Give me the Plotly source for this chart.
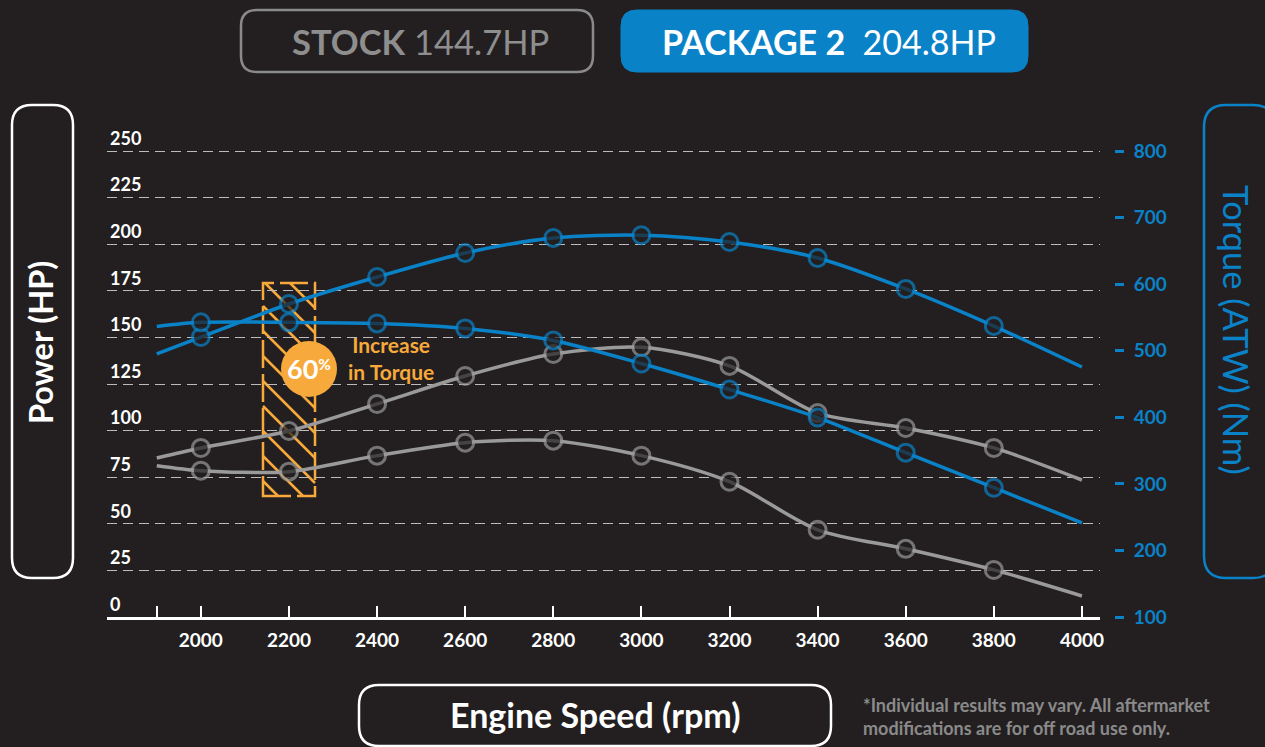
import plotly.graph_objects as go

# ---------------- data ----------------
rpm = [1900, 2000, 2200, 2400, 2600, 2800, 3000, 3200, 3400, 3600, 3800, 4000]
pkg_power_hp = [141.1, 150.2, 167.9, 182.4, 195.3, 203.3, 204.8, 201.2, 192.6, 176.0, 156.1, 134.1]
pkg_torque_nm = [536.5, 542.6, 542.6, 541.0, 533.5, 515.4, 480.8, 441.7, 399.6, 346.9, 294.2, 241.5]
stock_power_hp = [85.3, 90.7, 99.8, 114.3, 129.3, 141.1, 144.7, 134.7, 109.4, 101.4, 90.7, 73.5]
stock_torque_nm = [327.3, 319.8, 318.3, 342.4, 361.9, 364.9, 342.4, 303.2, 231.0, 202.4, 170.7, 131.6]
marker_rpm = [2000, 2200, 2400, 2600, 2800, 3000, 3200, 3400, 3600, 3800]

x_tickvals = [2000, 2200, 2400, 2600, 2800, 3000, 3200, 3400, 3600, 3800, 4000]
x_ticktext = ["2000", "2200", "2400", "2600", "2800", "3000", "3200", "3400", "3600", "3800", "4000"]
x_extra_tick = [1900]
hp_ticks = [0, 25, 50, 75, 100, 125, 150, 175, 200, 225, 250]
nm_ticks = [100, 200, 300, 400, 500, 600, 700, 800]

# ---------------- style ----------------
W, H = 1265, 747
BG = "#231f20"
BLUE = "#0a82c8"
GRAY = "#9a9a9a"
ORANGE = "#f7a93b"
FONT = "Lato"

X_RANGE = [1787, 4041]
HP_TOP = 275
HP_RANGE = [0, HP_TOP]
NM_RANGE = [100, 100 + HP_TOP * 2.8]
PX_L, PX_R, PX_B = 107, 1100, 617
PX_PER_HP = 466 / 250
PX_T = PX_B - HP_TOP * PX_PER_HP


def fx(px):
    return px / W


def fy(py):
    return 1 - py / H


def rrect(x0, y0, x1, y1, r):
    pts = [
        f"M {fx(x0 + r)},{fy(y0)}",
        f"L {fx(x1 - r)},{fy(y0)}",
        f"Q {fx(x1)},{fy(y0)} {fx(x1)},{fy(y0 + r)}",
        f"L {fx(x1)},{fy(y1 - r)}",
        f"Q {fx(x1)},{fy(y1)} {fx(x1 - r)},{fy(y1)}",
        f"L {fx(x0 + r)},{fy(y1)}",
        f"Q {fx(x0)},{fy(y1)} {fx(x0)},{fy(y1 - r)}",
        f"L {fx(x0)},{fy(y0 + r)}",
        f"Q {fx(x0)},{fy(y0)} {fx(x0 + r)},{fy(y0)}",
        "Z",
    ]
    return " ".join(pts)


msize = [17 if r in marker_rpm else 0 for r in rpm]

fig = go.Figure()


def add_curve(y, color, axis):
    fig.add_trace(go.Scatter(
        x=rpm, y=y, yaxis=axis, mode="lines+markers",
        line=dict(color=color, width=3.5, shape="spline", smoothing=0.8),
        marker=dict(size=msize, color=BG, line=dict(color=color, width=3)),
        hoverinfo="skip", showlegend=False,
    ))


add_curve(stock_power_hp, GRAY, "y")
add_curve(stock_torque_nm, GRAY, "y2")
add_curve(pkg_power_hp, BLUE, "y")
add_curve(pkg_torque_nm, BLUE, "y2")

shapes = []
annotations = []


def text(px, py, txt, size, color, weight=400, angle=0, xanchor="center", align="center"):
    annotations.append(dict(x=fx(px), y=fy(py), xref="paper", yref="paper", showarrow=False,
                            xanchor=xanchor, yanchor="middle", align=align, textangle=angle,
                            text=txt, font=dict(family=FONT, size=size, color=color, weight=weight)))


# header boxes
shapes.append(dict(type="path", xref="paper", yref="paper", path=rrect(241, 10, 593, 72, 16),
                   line=dict(color="#8a8a8a", width=2.5), fillcolor="rgba(0,0,0,0)", layer="above"))
shapes.append(dict(type="path", xref="paper", yref="paper", path=rrect(621, 10, 1028, 72, 16),
                   line=dict(color=BLUE, width=1), fillcolor=BLUE, layer="above"))
text(420, 41, "<b>STOCK</b> 144.7HP", 34.5, "#8e8e8e")
text(829, 41, "<b>PACKAGE 2</b>  204.8HP", 34, "white")

# axis title boxes
shapes.append(dict(type="path", xref="paper", yref="paper", path=rrect(12, 105, 73, 578, 20),
                   line=dict(color="white", width=2.5), fillcolor="rgba(0,0,0,0)", layer="above"))
text(41, 343, "Power (HP)", 32.5, "white", weight=700, angle=-90)
shapes.append(dict(type="path", xref="paper", yref="paper", path=rrect(1204, 105, 1275, 578, 22),
                   line=dict(color=BLUE, width=2.5), fillcolor="rgba(0,0,0,0)", layer="above"))
text(1236, 330, "Torque (ATW) (Nm)", 34.5, BLUE, angle=90)
shapes.append(dict(type="path", xref="paper", yref="paper", path=rrect(359, 685, 831, 746, 20),
                   line=dict(color="white", width=2.5), fillcolor="rgba(0,0,0,0)", layer="above"))
text(595, 714, "Engine Speed (rpm)", 34, "white", weight=700)

# footnote
text(861, 716, "*Individual results may vary. All aftermarket<br>modifications are for off road use only.",
     18, "#8a8a8a", weight=700, xanchor="left", align="left")

# hatched highlight box (pixel space -> paper)
hx0, hx1, hy0, hy1 = 263, 315, 283, 496
shapes.append(dict(type="rect", xref="paper", yref="paper", x0=fx(hx0), x1=fx(hx1), y0=fy(hy1), y1=fy(hy0),
                   line=dict(color=ORANGE, width=2.5, dash="28px,6px"), fillcolor="rgba(0,0,0,0)", layer="below"))
segs = []
spacing = 25
c = hy0 - (hx1 - hx0)
while c < hy1:
    xa, ya = hx0, c
    if ya < hy0:
        xa, ya = hx0 + (hy0 - c), hy0
    xb, yb = hx1, c + (hx1 - hx0)
    if yb > hy1:
        xb, yb = hx0 + (hy1 - c), hy1
    if xa < xb:
        segs.append(f"M {fx(xa)},{fy(ya)} L {fx(xb)},{fy(yb)}")
    c += spacing
shapes.append(dict(type="path", xref="paper", yref="paper", path=" ".join(segs),
                   line=dict(color=ORANGE, width=2.5), layer="below"))

# orange badge
shapes.append(dict(type="circle", xref="paper", yref="paper", x0=fx(281), x1=fx(337), y0=fy(397), y1=fy(341),
                   line=dict(color=ORANGE, width=0), fillcolor=ORANGE, layer="above"))
text(309, 369, "<b>60</b><span style='font-size:22px'><b><sup>%</sup></b></span>", 27, "white")
text(391, 358, "<b>Increase<br>in Torque</b>", 21, ORANGE)

fig.update_layout(
    width=W, height=H,
    margin=dict(l=0, r=0, t=0, b=0),
    paper_bgcolor=BG, plot_bgcolor=BG,
    showlegend=False,
    shapes=shapes, annotations=annotations,
    xaxis=dict(
        domain=[fx(PX_L), fx(PX_R)], range=X_RANGE, tickvals=x_tickvals, ticktext=x_ticktext,
        ticks="inside", ticklen=11, tickwidth=2, tickcolor="white",
        minor=dict(tickvals=x_extra_tick, ticks="inside", ticklen=11, tickwidth=2, tickcolor="white", showgrid=False),
        showline=True, linecolor="white", linewidth=3, showgrid=False, zeroline=False,
        tickfont=dict(family=FONT, size=19, color="white", weight=700), ticklabelstandoff=4,
        automargin=False, fixedrange=True,
    ),
    yaxis=dict(
        domain=[fy(PX_B), fy(PX_T)], range=HP_RANGE, tickvals=hp_ticks,
        ticklabelposition="inside top", ticks="", showline=False, zeroline=False,
        showgrid=True, gridcolor="#bdbdbd", gridwidth=1.3, griddash="10px,6px",
        tickfont=dict(family=FONT, size=18, color="white", weight=700), ticklabelstandoff=0,
        automargin=False, fixedrange=True,
    ),
    yaxis2=dict(
        overlaying="y", side="right", anchor="free", position=fx(1114), range=NM_RANGE, tickvals=nm_ticks,
        ticks="outside", ticklen=9, tickwidth=3, tickcolor=BLUE, showline=False, showgrid=False, zeroline=False,
        tickfont=dict(family=FONT, size=19, color=BLUE, weight=700), ticklabelstandoff=6,
        automargin=False, fixedrange=True,
    ),
)

fig.write_html("out.html", config={"displayModeBar": False},
               post_script="document.body.style.margin='0';document.body.style.overflow='hidden';")
